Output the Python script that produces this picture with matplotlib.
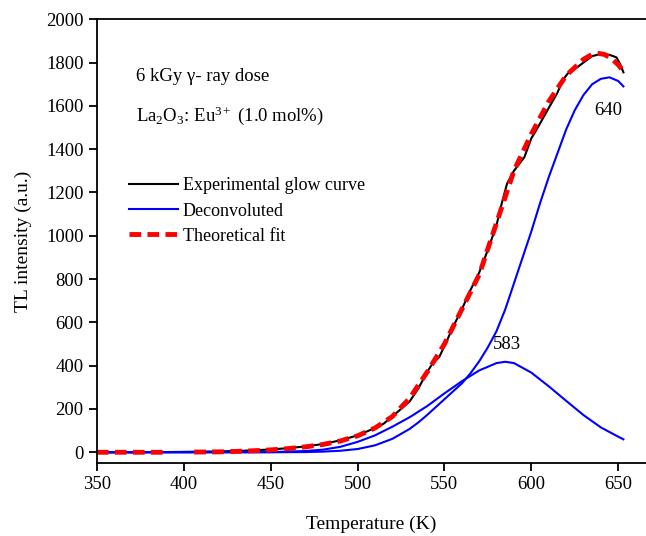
import numpy as np
import matplotlib.pyplot as plt

plt.rcParams['font.family'] = ['Liberation Serif', 'DejaVu Serif']
plt.rcParams['mathtext.fontset'] = 'custom'
plt.rcParams['mathtext.rm'] = 'Liberation Serif'
plt.rcParams['mathtext.it'] = 'Liberation Serif:italic'

# Experimental glow curve
exp_t = [350, 360, 370, 380, 390, 400, 410, 420, 430, 440, 450, 460, 470, 480, 490,
         500, 510, 515, 520, 530, 535, 540, 543, 547, 550, 555, 560, 565, 570, 575,
         580, 583, 586, 590, 596, 600, 603, 610, 615, 618, 621, 625, 630, 635, 640,
         645, 649, 651, 653]
exp_i = [0, 0, 0, 1, 1, 2, 3, 4, 6, 9, 13, 19, 27, 38, 55,
         78, 112, 132, 165, 235, 295, 370, 408, 440, 490, 580, 660, 750, 830, 935,
         1050, 1150, 1240, 1300, 1363, 1450, 1490, 1590, 1660, 1718, 1750, 1770, 1800, 1830, 1840,
         1836, 1824, 1795, 1755]

# Theoretical fit (gap near 390-405)
fit_t = [350, 360, 370, 380, 390, 397, 406, 420, 430, 440, 450, 460, 470, 480, 490,
         500, 510, 520, 530, 540, 550, 560, 570, 580, 590, 600, 610, 620, 630, 635,
         638, 642, 646, 650, 653]
fit_i = [0, 0, 0, 0, 0, np.nan, 1, 2, 4, 7, 11, 17, 25, 36, 52,
         76, 112, 165, 250, 370, 500, 660, 820, 1060, 1300, 1470, 1620, 1740, 1815, 1838,
         1843, 1838, 1820, 1790, 1760]

# Deconvoluted peak at 583 K
p1_t = [350, 400, 450, 460, 470, 480, 490, 500, 510, 520, 530, 540, 550, 560, 570,
        580, 585, 590, 600, 610, 620, 630, 640, 650, 653]
p1_i = [0, 0, 1, 3, 6, 12, 25, 48, 78, 118, 162, 213, 272, 328, 378,
        412, 418, 412, 368, 305, 238, 172, 115, 72, 60]

# Deconvoluted peak at 640 K
p2_t = [350, 400, 450, 470, 480, 490, 500, 510, 520, 530, 535, 540, 550, 560, 565,
        570, 575, 580, 585, 590, 595, 600, 605, 610, 615, 620, 625, 630, 635, 640,
        645, 650, 653]
p2_i = [0, 0, 0, 1, 3, 7, 15, 32, 62, 108, 138, 172, 245, 318, 365,
        420, 485, 560, 660, 780, 900, 1020, 1150, 1270, 1380, 1490, 1580, 1650, 1700, 1725,
        1732, 1715, 1690]

fig = plt.figure(figsize=(6.46, 5.36), dpi=100)
ax = fig.add_axes([0.150, 0.136, 0.850, 0.828])

ax.plot(exp_t, exp_i, color='black', lw=1.5, label='Experimental glow curve')
ax.plot(p1_t, p1_i, color='#0000ff', lw=1.5, label='Deconvoluted')
ax.plot(p2_t, p2_i, color='#0000ff', lw=1.5)
ax.plot(fit_t, fit_i, color='#ff0000', lw=3.5, ls=(0, (2.4, 1.3)),
        label='Theoretical fit')

ax.set_xlim(350, 666)
ax.set_ylim(-50, 2000)
ax.set_xticks(range(350, 651, 50))
ax.set_yticks(range(0, 2001, 200))
ax.spines['right'].set_visible(False)
for s in ax.spines.values():
    s.set_linewidth(1.3)
ax.tick_params(direction='out', length=6, width=1.3, labelsize=13.5)

ax.set_xlabel('Temperature (K)', fontsize=14, labelpad=16)
ax.set_ylabel('TL intensity (a.u.)', fontsize=14, labelpad=10)

ax.text(0.072, 0.86, '6 kGy γ- ray dose', transform=ax.transAxes, fontsize=13.5)
ax.text(0.072, 0.772, 'La$_2$O$_3$: Eu$^{3+}$ (1.0 mol%)', transform=ax.transAxes,
        fontsize=13.5)
ax.text(586, 475, '583', fontsize=13.5, ha='center')
ax.text(644, 1560, '640', fontsize=13.5, ha='center')

ax.legend(loc='upper left', bbox_to_anchor=(0.045, 0.66), frameon=False,
          fontsize=13, handlelength=2.7, handletextpad=0.3, labelspacing=0.45,
          borderaxespad=0)

fig.savefig('out.png', dpi=100)
